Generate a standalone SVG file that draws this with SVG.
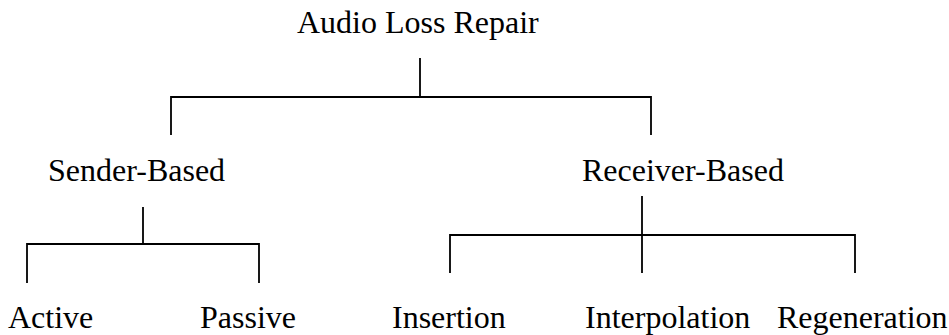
<svg xmlns="http://www.w3.org/2000/svg" width="949" height="335" viewBox="0 0 949 335">
<style>
text { font-family: "Liberation Serif", "Times New Roman", serif; font-size: 32px; fill: #000; }
.c { fill: none; stroke: #000; stroke-width: 1.8; stroke-linecap: butt; stroke-linejoin: miter; }
</style>
<rect width="949" height="335" fill="#fff"/>
<g id="connectors">
<path class="c" d="M420,58 V97 M171,135 V97 H651 V135"/>
<path class="c" d="M143,207 V244 M27,283 V244 H259 V283"/>
<path class="c" d="M642,196 V273 M450,273 V235 H855 V273"/>
</g>
<g id="n-root"><text x="297" y="33">Audio Loss Repair</text></g>
<g id="n-sender"><text x="48" y="181">Sender-Based</text></g>
<g id="n-receiver"><text x="582" y="181">Receiver-Based</text></g>
<g id="n-active"><text x="8" y="328">Active</text></g>
<g id="n-passive"><text x="200" y="328">Passive</text></g>
<g id="n-insertion"><text x="392" y="328">Insertion</text></g>
<g id="n-interpolation"><text x="585" y="328">Interpolation</text></g>
<g id="n-regeneration"><text x="777" y="328">Regeneration</text></g>
</svg>
